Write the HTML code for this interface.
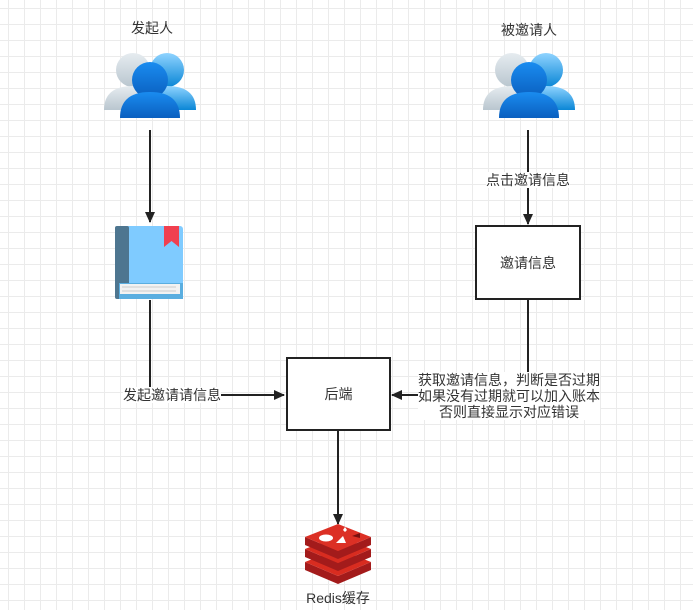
<!DOCTYPE html>
<html><head><meta charset="utf-8"><style>
body{margin:0;width:693px;height:610px;overflow:hidden;background:#fff;
background-image:linear-gradient(#ebebeb 1px,transparent 1px),linear-gradient(90deg,#ebebeb 1px,transparent 1px);
background-size:16px 16px;background-position:0 8px,8px 0;
font-family:"Liberation Sans","Noto Sans CJK SC",sans-serif;font-size:14px;color:#333;position:relative}
.t{position:absolute;white-space:nowrap;transform:translateX(-50%);line-height:16px}
.box{position:absolute;border:2px solid #222;background:#fff;display:flex;align-items:center;justify-content:center;box-sizing:border-box}
</style></head><body>
<svg width="693" height="610" style="position:absolute;left:0;top:0">
<defs><marker id="a" markerWidth="12" markerHeight="12" refX="10" refY="6" orient="auto" markerUnits="userSpaceOnUse"><path d="M0,1 L11,6 L0,11 Z" fill="#222"/></marker>
<linearGradient id="g1" x1="0" y1="0" x2="0" y2="1"><stop offset="0" stop-color="#e6ecf0"/><stop offset="1" stop-color="#b9c6cf"/></linearGradient>
<linearGradient id="g2" x1="0" y1="0" x2="0" y2="1"><stop offset="0" stop-color="#8fd3ff"/><stop offset="1" stop-color="#0a86d6"/></linearGradient>
<linearGradient id="g3" x1="0" y1="0" x2="0" y2="1"><stop offset="0" stop-color="#1a8cf0"/><stop offset="1" stop-color="#0a5fbf"/></linearGradient>
<g id="ppl">
<circle cx="-17" cy="-8" r="17" fill="url(#g1)"/><path d="M-46,32 q0,-24 29,-24 q29,0 29,24 z" fill="url(#g1)"/>
<circle cx="17" cy="-8" r="17" fill="url(#g2)"/><path d="M-12,32 q0,-24 29,-24 q29,0 29,24 z" fill="url(#g2)"/>
<circle cx="0" cy="2" r="18" fill="url(#g3)"/><path d="M-30,40 q0,-26 30,-26 q30,0 30,26 z" fill="url(#g3)"/>
</g></defs>
<g stroke="#222" stroke-width="2" fill="none">
<line x1="150" y1="130" x2="150" y2="222" marker-end="url(#a)"/>
<polyline points="150,300 150,395 284,395" marker-end="url(#a)"/>
<line x1="338" y1="430" x2="338" y2="524" marker-end="url(#a)"/>
<line x1="528" y1="130" x2="528" y2="224" marker-end="url(#a)"/>
<polyline points="528,299 528,395 392,395" marker-end="url(#a)"/>
</g>
<use href="#ppl" x="150" y="78"/>
<use href="#ppl" x="529" y="78"/>
<rect x="115" y="226" width="68" height="73" rx="3" fill="#7fcbff"/>
<rect x="115" y="226" width="14" height="73" rx="2" fill="#4e7690"/>
<rect x="119" y="283" width="64" height="16" fill="#5aaee0"/>
<rect x="120" y="284" width="60" height="10" fill="#f2f2f2"/>
<line x1="122" y1="287" x2="176" y2="287" stroke="#ccc"/><line x1="122" y1="291" x2="176" y2="291" stroke="#ccc"/>
<path d="M164,226 h15 v21 l-7.5,-6 l-7.5,6 z" fill="#f04050"/>
<g transform="translate(0,6)">
<path d="M305,564 l33,14 l33,-14 v-8 l-33,14 l-33,-14 z" fill="#a31b1b"/>
<path d="M305,556 l33,14 l33,-14 l-33,-13 z" fill="#d82c20"/>
<path d="M305,551 l33,14 l33,-14 v-8 l-33,14 l-33,-14 z" fill="#a31b1b"/>
<path d="M305,543 l33,14 l33,-14 l-33,-13 z" fill="#d82c20"/>
<path d="M305,539 l33,14 l33,-14 v-8 l-33,14 l-33,-14 z" fill="#a31b1b"/>
<path d="M305,531 l33,14 l33,-14 l-33,-13 z" fill="#dc3025"/>
<ellipse cx="326" cy="532" rx="7" ry="3.5" fill="#fff"/>
<path d="M336,537 l7,-7 l3,7 z" fill="#fff"/>
<path d="M343,524 l2,-3 l2,3 l-2,2 z" fill="#fff"/>
<path d="M352,530 l8,-3 v5 z" fill="#7a1010"/>
</g>
</svg>
<div class="t" style="left:152px;top:20px">发起人</div>
<div class="t" style="left:529px;top:22px">被邀请人</div>
<div class="t" style="left:528px;top:172px;background:#fff">点击邀请信息</div>
<div class="t" style="left:172px;top:387px;background:#fff">发起邀请请信息</div>
<div class="t" style="left:509px;top:372px;background:#fff;text-align:center">获取邀请信息，判断是否过期<br>如果没有过期就可以加入账本<br>否则直接显示对应错误</div>
<div class="box" style="left:475px;top:225px;width:106px;height:75px">邀请信息</div>
<div class="box" style="left:286px;top:357px;width:105px;height:74px">后端</div>
<div class="t" style="left:338px;top:590px">Redis缓存</div>
</body></html>
